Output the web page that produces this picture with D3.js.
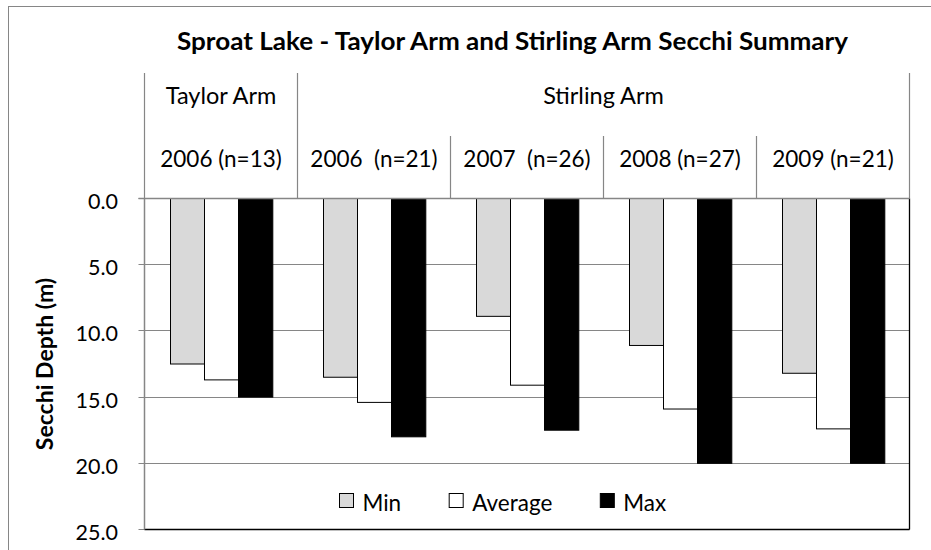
<!DOCTYPE html>
<html>
<head>
<meta charset="utf-8">
<script src="https://cdn.jsdelivr.net/npm/d3@7/dist/d3.min.js"></script>
<style>
  html, body { margin: 0; padding: 0; background: #fff; }
  svg { display: block; }
  text { font-family: Lato, "Open Sans", sans-serif; fill: #000; white-space: pre; }
</style>
</head>
<body>
<svg id="chart" width="931" height="550"></svg>
<script>
// ---- data ----
const title = "Sproat Lake - Taylor Arm and Stirling Arm Secchi Summary";
const yAxisTitle = "Secchi Depth (m)";
const categories = ["2006 (n=13)", "2006  (n=21)", "2007  (n=26)", "2008 (n=27)", "2009 (n=21)"];
const groupNames = ["Taylor Arm", "Stirling Arm"];
const groupSpans = [1, 4];
const seriesNames = ["Min", "Average", "Max"];
const minValues = [12.5, 13.5, 8.9, 11.1, 13.2];
const avgValues = [13.7, 15.4, 14.1, 15.9, 17.4];
const maxValues = [15.0, 18.0, 17.5, 20.0, 20.0];
const yTicks = [0, 5, 10, 15, 20, 25];

const seriesValues = [minValues, avgValues, maxValues];
const seriesFill = ["#d9d9d9", "#ffffff", "#000000"];

// ---- layout ----
const svg = d3.select("#chart");
const plot = { left: 144.5, right: 909.5, top: 198.5, bottom: 529.5 };
const headerTop = 73, subHeaderTop = 136;
const gridColor = "#868686";

svg.append("rect").attr("x", 8.5).attr("y", 6.5).attr("width", 940).attr("height", 560)
  .attr("fill", "#fff").attr("stroke", gridColor).attr("stroke-width", 1);

const x0 = d3.scaleBand().domain(categories).range([plot.left, plot.right]).padding(0);
const x1 = d3.scaleBand().domain(seriesNames).range([0, x0.bandwidth()])
  .paddingInner(0).paddingOuter(0.73);
const y = d3.scaleLinear().domain([0, 25]).range([plot.top, plot.bottom]);

// gridlines
svg.append("g").selectAll("line").data(yTicks).join("line")
  .attr("x1", plot.left - 6).attr("x2", plot.right)
  .attr("y1", d => Math.round(y(d) - 0.5) + 0.5).attr("y2", d => Math.round(y(d) - 0.5) + 0.5)
  .attr("stroke", gridColor).attr("stroke-width", 1.2);

// bars
const barData = [];
categories.forEach((c, i) => seriesNames.forEach((s, j) => barData.push({ c, s, j, v: seriesValues[j][i] })));
svg.append("g").selectAll("rect").data(barData).join("rect")
  .attr("x", d => Math.round(x0(d.c) + x1(d.s)) + 0.5)
  .attr("width", x1.bandwidth())
  .attr("y", y(0))
  .attr("height", d => y(d.v) - y(0))
  .attr("fill", d => seriesFill[d.j])
  .attr("stroke", "#000").attr("stroke-width", 1);

// plot border: bottom and right black, left and top gray axis
svg.append("line").attr("x1", plot.left).attr("x2", plot.right).attr("y1", plot.bottom).attr("y2", plot.bottom)
  .attr("stroke", "#000").attr("stroke-width", 1.3);
svg.append("line").attr("x1", plot.right).attr("x2", plot.right).attr("y1", plot.top).attr("y2", plot.bottom)
  .attr("stroke", "#000").attr("stroke-width", 1.3);
svg.append("line").attr("x1", plot.left).attr("x2", plot.left).attr("y1", plot.top).attr("y2", plot.bottom)
  .attr("stroke", gridColor).attr("stroke-width", 1.5);
svg.append("line").attr("x1", plot.left - 6).attr("x2", plot.right).attr("y1", plot.top).attr("y2", plot.top)
  .attr("stroke", gridColor).attr("stroke-width", 1.5);

// header lines
let acc = 0;
const groupBounds = [plot.left];
groupSpans.forEach(s => { acc += s; groupBounds.push(x0.range()[0] + acc * x0.step()); });
svg.append("g").selectAll("line").data(groupBounds).join("line")
  .attr("x1", d => Math.round(d - 0.5) + 0.5).attr("x2", d => Math.round(d - 0.5) + 0.5)
  .attr("y1", headerTop).attr("y2", plot.top)
  .attr("stroke", gridColor).attr("stroke-width", 1.2);
const subBounds = categories.map((c, i) => x0(c)).filter(v => !groupBounds.some(g => Math.abs(g - v) < 1));
svg.append("g").selectAll("line").data(subBounds).join("line")
  .attr("x1", d => Math.round(d - 0.5) + 0.5).attr("x2", d => Math.round(d - 0.5) + 0.5)
  .attr("y1", subHeaderTop).attr("y2", plot.top)
  .attr("stroke", gridColor).attr("stroke-width", 1.2);

// group labels
svg.append("g").selectAll("text").data(groupNames).join("text")
  .attr("x", (d, i) => (groupBounds[i] + groupBounds[i + 1]) / 2)
  .attr("y", 103.5)
  .attr("text-anchor", "middle").attr("font-size", 23.5)
  .text(d => d);

// category labels
svg.append("g").selectAll("text").data(categories).join("text")
  .attr("x", d => x0(d) + x0.bandwidth() / 2)
  .attr("y", 167)
  .attr("text-anchor", "middle").attr("font-size", 22.5)
  .text(d => d);

// y tick labels
svg.append("g").selectAll("text").data(yTicks).join("text")
  .attr("x", 118).attr("y", d => y(d) + 10.5)
  .attr("text-anchor", "end").attr("font-size", 21.5)
  .text(d => d3.format(".1f")(d));

// y axis title
svg.append("text")
  .attr("transform", `translate(53, ${(plot.top + plot.bottom) / 2}) rotate(-90)`)
  .attr("text-anchor", "middle").attr("font-size", 23).attr("font-weight", "bold")
  .text(yAxisTitle);

// title
svg.append("text")
  .attr("x", 512.5).attr("y", 49.5)
  .attr("text-anchor", "middle").attr("font-size", 24).attr("font-weight", "bold")
  .attr("textLength", 671).attr("lengthAdjust", "spacingAndGlyphs")
  .text(title);

// legend
const legend = svg.append("g");
let lx = 339.5;
seriesNames.forEach((s, j) => {
  legend.append("rect").attr("x", lx).attr("y", 493.5).attr("width", 14).attr("height", 14)
    .attr("fill", seriesFill[j]).attr("stroke", "#000").attr("stroke-width", 1);
  const t = legend.append("text").attr("x", lx + 23).attr("y", 510.5).attr("font-size", 22.5).text(s);
  lx += 23 + t.node().getComputedTextLength() + 48;
});
</script>
</body>
</html>
